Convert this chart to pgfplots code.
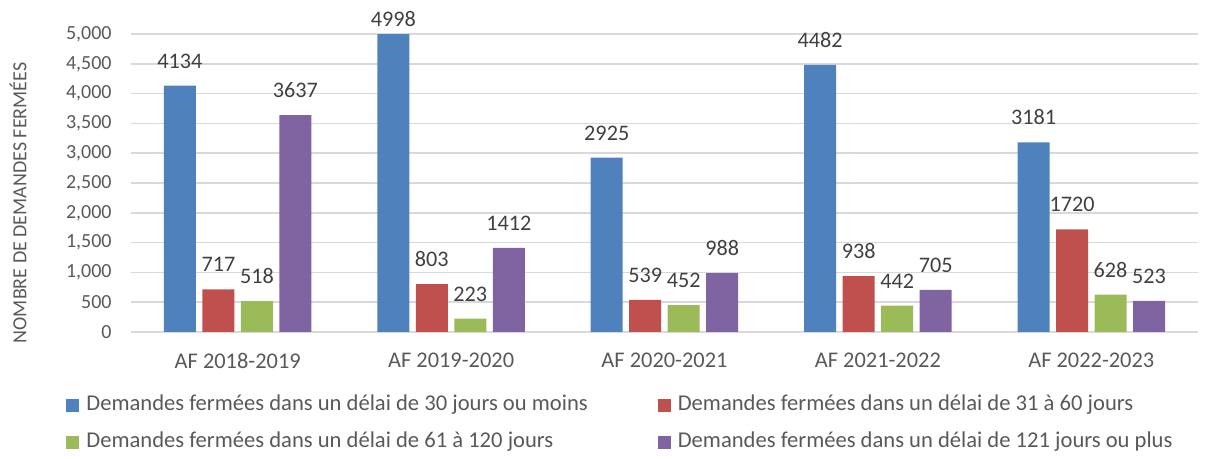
\documentclass[border=0pt]{standalone}
\usepackage{fontspec}
\setmainfont{Carlito}
\usepackage{pgfplots}
\pgfplotsset{compat=1.18}

\definecolor{cblue}{RGB}{79,129,189}
\definecolor{cred}{RGB}{192,80,77}
\definecolor{cgreen}{RGB}{155,187,89}
\definecolor{cpurple}{RGB}{128,100,162}
\definecolor{gridgray}{RGB}{217,217,217}
\definecolor{ticktext}{RGB}{89,89,89}
\definecolor{labeltext}{RGB}{64,64,64}

\begin{document}
\begin{tikzpicture}
\begin{axis}[
  scale only axis,
  width=533.5pt, height=149pt,
  ybar=3.25pt, bar width=16pt,
  xmin=-0.5, xmax=4.5,
  ymin=0, ymax=5000,
  enlargelimits=false,
  clip=false,
  axis line style={draw=none},
  major tick length=0pt,
  ymajorgrids,
  y grid style={gridgray, line width=0.75pt},
  xtick={0,1,2,3,4},
  xticklabels={AF 2018-2019, AF 2019-2020, AF 2020-2021, AF 2021-2022, AF 2022-2023},
  ytick={0,500,...,5000},
  scaled y ticks=false,
  /pgf/number format/assume math mode=true,
  /pgf/number format/1000 sep={,},
  yticklabel style={font=\fontsize{10}{12}\selectfont, color=ticktext, inner sep=0pt, xshift=-9.5pt},
  xticklabel style={font=\fontsize{11.2}{13}\selectfont, color=ticktext, inner sep=0pt, yshift=-10.5pt},
  ylabel={NOMBRE DE DEMANDES FERMÉES},
  ylabel style={font=\fontsize{10}{12}\selectfont, color=ticktext,
    at={(axis description cs:-0.1059,0.433)}, anchor=center},
  visualization depends on=rawy \as \rawy,
  nodes near coords={\pgfmathprintnumber[1000 sep={}]{\pgfplotspointmeta}},
  every node near coord/.append style={font=\fontsize{11.1}{13}\selectfont,
    color=labeltext, inner sep=0pt, anchor=south,
    yshift={ifthenelse(\rawy>4900,3.5,8.5)}},
  legend columns=2,
  legend cell align=left,
  legend style={draw=none, fill=none, inner sep=0pt,
    at={(-0.0609,-0.215)}, anchor=north west,
    font=\fontsize{11.3}{13}\selectfont, text=ticktext,
    nodes={inner sep=0pt, text height=7pt, text depth=2pt},
    row sep=9.5pt,
    /tikz/every odd column/.append style={column sep=3.5pt},
    /tikz/every even column/.append style={column sep=35pt}},
  legend image code/.code={\fill[#1] (0pt,-3.25pt) rectangle (6.5pt,3.25pt);},
]
\addplot[draw=none, fill=cblue] coordinates {(0,4134) (1,4998) (2,2925) (3,4482) (4,3181)};
\addlegendentry{Demandes fermées dans un délai de 30 jours ou moins}
\addplot[draw=none, fill=cred] coordinates {(0,717) (1,803) (2,539) (3,938) (4,1720)};
\addlegendentry{Demandes fermées dans un délai de 31 à 60 jours}
\addplot[draw=none, fill=cgreen] coordinates {(0,518) (1,223) (2,452) (3,442) (4,628)};
\addlegendentry{Demandes fermées dans un délai de 61 à 120 jours}
\addplot[draw=none, fill=cpurple] coordinates {(0,3637) (1,1412) (2,988) (3,705) (4,523)};
\addlegendentry{Demandes fermées dans un délai de 121 jours ou plus}
\end{axis}
\path[use as bounding box] (-65.5pt,-63.5pt) rectangle (537.5pt,166pt);
\end{tikzpicture}
\end{document}
